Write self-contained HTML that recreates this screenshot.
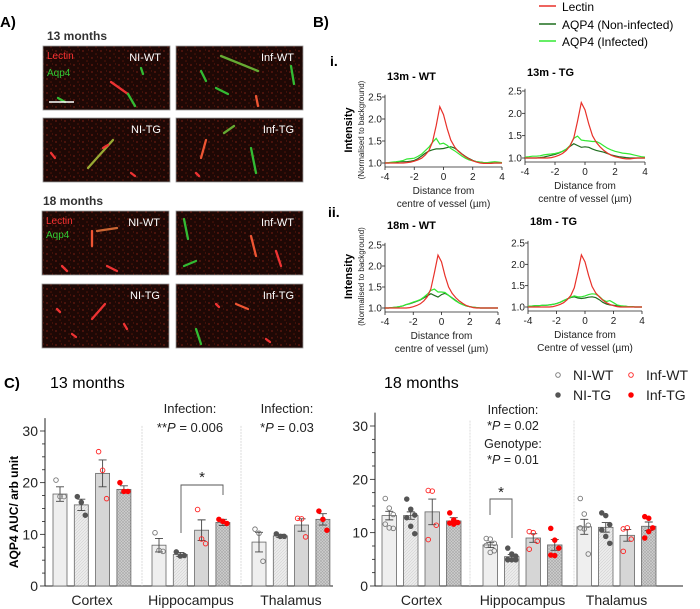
<!DOCTYPE html>
<html><head><meta charset="utf-8"><style>
html,body{margin:0;padding:0;background:#fff;}
svg{display:block;font-family:"Liberation Sans",Arial,sans-serif;}
</style></head><body>
<svg id="fig" width="700" height="609" viewBox="0 0 700 609" xmlns="http://www.w3.org/2000/svg">
<defs>
<pattern id="hatch2" width="3" height="3" patternUnits="userSpaceOnUse"><rect width="3" height="3" fill="#ececec"/><path d="M0,3 L3,0" stroke="#d0d0d0" stroke-width="0.6"/></pattern>
<pattern id="hatch4" width="3" height="3" patternUnits="userSpaceOnUse"><rect width="3" height="3" fill="#cfcfcf"/><path d="M0,3 L3,0 M0,0 L3,3" stroke="#a8a8a8" stroke-width="0.6"/></pattern>
<pattern id="speckle" width="9" height="7" patternUnits="userSpaceOnUse"><rect width="9" height="7" fill="#1e0805"/><circle cx="2" cy="2" r="0.9" fill="#6a1a10"/><circle cx="6" cy="5" r="0.8" fill="#561409"/><circle cx="7.5" cy="1" r="0.5" fill="#7a2010"/></pattern>
</defs>
<g id="panelA">
<text x="0" y="27" font-size="15" font-weight="bold">A)</text>
<text x="47" y="40" font-size="12" font-weight="bold" fill="#333">13 months</text>
<text x="43" y="205" font-size="12" font-weight="bold" fill="#333">18 months</text>
</g>
<text x="313" y="27" font-size="15" font-weight="bold">B)</text>
<text x="330" y="66" font-size="14" font-weight="bold">i.</text>
<text x="328" y="217" font-size="14" font-weight="bold">ii.</text>
<g>
<line x1="539" y1="6" x2="556" y2="6" stroke="#e8312a" stroke-width="1.5"/>
<text x="562" y="11" font-size="12">Lectin</text>
<line x1="539" y1="24" x2="556" y2="24" stroke="#1f6e1f" stroke-width="1.5"/>
<text x="562" y="29" font-size="12">AQP4 (Non-infected)</text>
<line x1="539" y1="41" x2="556" y2="41" stroke="#33e833" stroke-width="1.5"/>
<text x="562" y="46" font-size="12">AQP4 (Infected)</text>
</g>
<g id="profiles"></g>
<g id="panelC">
<text x="4" y="388" font-size="15" font-weight="bold">C)</text>
<text x="50" y="388" font-size="16">13 months</text>
<text x="384" y="388" font-size="16">18 months</text>
<text transform="translate(18,512) rotate(-90)" text-anchor="middle" font-size="12" font-weight="bold">AQP4 AUC/ arb unit</text>
</g>
<g id="bars"></g>
</svg>
<script>
const NS="http://www.w3.org/2000/svg";
function mk(tag,attrs,parent,txt){const e=document.createElementNS(NS,tag);for(const k in attrs)e.setAttribute(k,attrs[k]);if(txt!==undefined)e.textContent=txt;parent.appendChild(e);return e;}
const svg=document.getElementById('fig');

/* ---------- Panel A: micrographs ---------- */
const micrographLabels=["NI-WT","Inf-WT","NI-TG","Inf-TG","NI-WT","Inf-WT","NI-TG","Inf-TG"];
const microBoxes=[[43,46],[176,46],[43,118],[176,118],[42,211],[176,211],[42,284],[176,284]];
/* vessel segments relative to box origin */
const vessels=[
 [[68,36,85,48,"#e33"],[85,48,92,60,"#3b3"],[15,52,22,56,"#3b3"],[98,22,100,28,"#3b3"]],
 [[25,25,30,35,"#3b3"],[45,10,82,25,"#6a3"],[40,42,52,48,"#3b3"],[115,20,118,38,"#3b3"],[80,50,82,60,"#e53"]],
 [[45,50,70,22,"#9a3"],[8,35,12,40,"#e33"],[88,55,92,58,"#e33"],[60,30,65,27,"#e33"]],
 [[25,40,30,22,"#e53"],[75,30,80,55,"#3b3"],[48,15,58,8,"#6a3"],[20,55,23,58,"#e33"]],
 [[55,20,75,17,"#c63"],[50,20,50,35,"#e53"],[20,55,25,60,"#e33"],[65,55,75,60,"#e33"]],
 [[8,8,12,28,"#3b3"],[8,55,20,50,"#3b3"],[75,25,80,45,"#e53"],[100,40,105,55,"#e33"]],
 [[50,35,63,20,"#e33"],[15,25,18,28,"#e33"],[82,40,85,45,"#e33"],[30,50,34,53,"#e33"]],
 [[20,45,25,60,"#3b3"],[60,20,72,25,"#e53"],[90,55,94,58,"#e33"],[40,20,43,23,"#e33"]]];
microBoxes.forEach((b,i)=>{
  const g=mk('g',{},svg);
  
  
  mk('rect',{x:b[0],y:b[1],width:127,height:64,fill:"url(#speckle)",stroke:"#999","stroke-width":0.8},g);
  vessels[i].forEach(v=>mk('line',{x1:b[0]+v[0],y1:b[1]+v[1],x2:b[0]+v[2],y2:b[1]+v[3],stroke:v[4],"stroke-width":2.3,"stroke-linecap":"round"},g));
  mk('text',{x:b[0]+118,y:b[1]+15,"font-size":11,fill:"#fff","text-anchor":"end"},g,micrographLabels[i]);
  if(i===0||i===4){mk('text',{x:b[0]+4,y:b[1]+13,"font-size":10,fill:"#f33"},g,"Lectin");mk('text',{x:b[0]+4,y:b[1]+(i===0?30:27),"font-size":10,fill:"#3c3"},g,"Aqp4");}
  if(i===0)mk('line',{x1:49,y1:102,x2:74,y2:102,stroke:"#fff","stroke-width":1.5},g);
});

/* ---------- Panel B: intensity profiles ---------- */
const profileX=[-4,-3.75,-3.5,-3.25,-3,-2.75,-2.5,-2.25,-2,-1.75,-1.5,-1.25,-1,-0.75,-0.5,-0.25,0,0.25,0.5,0.75,1,1.25,1.5,1.75,2,2.25,2.5,2.75,3,3.25,3.5,3.75,4];
const lectin13WT=[1,1,1,1,1,1,1.01,1.02,1.04,1.07,1.11,1.18,1.28,1.48,1.85,2.28,2.1,1.78,1.52,1.37,1.27,1.2,1.14,1.09,1.05,1.02,1,0.99,0.99,0.99,1,1,1];
const ni13WT=[1,1,1.01,1.02,1.03,1.03,1.03,1.04,1.06,1.1,1.16,1.22,1.27,1.3,1.32,1.32,1.33,1.35,1.37,1.34,1.28,1.21,1.15,1.1,1.06,1.03,1.02,1.01,1,1,1,1,1];
const inf13WT=[1,1.01,1.02,1.03,1.04,1.06,1.09,1.1,1.11,1.15,1.2,1.28,1.36,1.47,1.56,1.43,1.45,1.4,1.33,1.28,1.22,1.16,1.11,1.07,1.05,1.03,1.02,1.01,1.01,1.02,1.03,1.02,1.01];
const lectin13TG=[1,1,1,1,1,1,1,1.01,1.03,1.06,1.1,1.17,1.27,1.45,1.82,2.24,2.08,1.76,1.5,1.35,1.25,1.17,1.11,1.06,1.03,1.01,0.99,0.98,0.98,0.99,1,1,1];
const ni13TG=[1,1,1,1,1.01,1.02,1.04,1.06,1.08,1.11,1.15,1.2,1.26,1.32,1.28,1.24,1.25,1.24,1.2,1.17,1.15,1.13,1.1,1.07,1.05,1.03,1.02,1.01,1,1,1,1,1];
const inf13TG=[1.02,1.03,1.04,1.04,1.05,1.07,1.08,1.09,1.1,1.12,1.15,1.2,1.28,1.44,1.49,1.4,1.39,1.38,1.37,1.37,1.33,1.27,1.22,1.18,1.15,1.13,1.11,1.1,1.09,1.07,1.05,1.03,1.02];
const lectin18WT=[1,1,1,1,1,1,1,1.01,1.03,1.06,1.1,1.17,1.27,1.46,1.84,2.26,2.1,1.77,1.5,1.35,1.25,1.17,1.11,1.06,1.03,1.01,1,1,1,1,1,1,1];
const ni18WT=[1,1,1.01,1.02,1.03,1.05,1.08,1.1,1.13,1.16,1.19,1.24,1.29,1.34,1.3,1.26,1.32,1.35,1.3,1.24,1.18,1.12,1.08,1.05,1.03,1.02,1.01,1,1,1,1,1,1];
const inf18WT=[1,1,1.01,1.02,1.03,1.05,1.08,1.11,1.14,1.17,1.2,1.26,1.33,1.42,1.45,1.38,1.38,1.37,1.3,1.23,1.17,1.12,1.08,1.05,1.03,1.02,1.01,1,1,1,1,1,1];
const lectin18TG=[1,1,1,1,1,1,1,1.01,1.03,1.06,1.1,1.17,1.27,1.45,1.82,2.22,2.06,1.74,1.48,1.33,1.24,1.16,1.1,1.06,1.03,1.01,1,1,1,1,1,1,1];
const ni18TG=[1.02,1.02,1.03,1.03,1.04,1.04,1.05,1.06,1.08,1.11,1.15,1.19,1.22,1.24,1.21,1.2,1.21,1.23,1.24,1.22,1.17,1.11,1.07,1.05,1.04,1.03,1.02,1.02,1.01,1.01,1,1,1];
const inf18TG=[1.02,1.02,1.03,1.03,1.04,1.04,1.05,1.06,1.08,1.11,1.15,1.19,1.23,1.26,1.24,1.24,1.26,1.29,1.31,1.3,1.25,1.17,1.13,1.15,1.1,1.05,1.03,1.02,1.01,1.01,1,1,1];
const profileTitles=["13m - WT","13m - TG","18m - WT","18m - TG"];
const profileSeries=[[lectin13WT,ni13WT,inf13WT],[lectin13TG,ni13TG,inf13TG],[lectin18WT,ni18WT,inf18WT],[lectin18TG,ni18TG,inf18TG]];
const profileXTicks=[-4,-2,0,2,4];
const profileYTicks=[1.0,1.5,2.0,2.5];
const profileBoxes=[[385,502,163,97,80,"centre of vessel (µm)"],[525,645,158,91,76,"centre of vessel (µm)"],[385,498,308,245,229,"centre of vessel (µm)"],[528,642,307,243,225,"Centre of vessel (µm)"]];
const seriesColors=["#e8312a","#1f6e1f","#33e833"];
const prof=document.getElementById('profiles');
profileBoxes.forEach((b,pi)=>{
  const [L,R,y1,y25,ty,lab2]=b;
  const xs=v=>L+(v+4)/8*(R-L);
  const ys=v=>y1-(v-1)/1.5*(y1-y25);
  const g=mk('g',{},prof);
  
  
  mk('text',{x:L+2,y:ty,"font-size":11,"font-weight":"bold"},g,profileTitles[pi]);
  const ax=y1+4;
  mk('line',{x1:L,y1:ax,x2:R,y2:ax,stroke:"#222","stroke-width":0.8},g);
  mk('line',{x1:L,y1:ys(2.55),x2:L,y2:ax,stroke:"#222","stroke-width":0.8},g);
  profileXTicks.forEach(t=>{mk('line',{x1:xs(t),y1:ax,x2:xs(t),y2:ax+3,stroke:"#222","stroke-width":0.8},g);
    const tx=mk('text',{x:xs(t),y:ax+13,"font-size":10,"text-anchor":"middle",fill:"#222"},g,t<0?"-"+Math.abs(t):String(t));
    });
  profileYTicks.forEach(t=>{mk('line',{x1:L-3,y1:ys(t),x2:L,y2:ys(t),stroke:"#222","stroke-width":0.8},g);
    mk('text',{x:L-3,y:ys(t)+3.5,"font-size":10,"text-anchor":"end",fill:"#222"},g,t.toFixed(1));});
  mk('text',{x:(L+R)/2,y:ax+27,"font-size":10,"text-anchor":"middle",fill:"#222"},g,"Distance from");
  mk('text',{x:(L+R)/2,y:ax+40,"font-size":10,"text-anchor":"middle",fill:"#222"},g,lab2);
  [1,2,0].forEach(si=>{
    const d=profileX.map((x,i)=>(i?"L":"M")+xs(x).toFixed(1)+","+ys(profileSeries[pi][si][i]).toFixed(1)).join(" ");
    const p=mk('path',{d:d,fill:"none",stroke:seriesColors[si],"stroke-width":1.2},g);
    
    
  });
  if(pi===0||pi===2){
    const cy=(y1+y25)/2;
    mk('text',{transform:`translate(352,${cy}) rotate(-90)`,"font-size":11,"font-weight":"bold","text-anchor":"middle"},g,"Intensity");
    mk('text',{transform:`translate(364,${cy}) rotate(-90)`,"font-size":8,"text-anchor":"middle",fill:"#222"},g,"(Normalised to background)");
  }
});

/* ---------- Panel C: bar charts ---------- */
const regions=["Cortex","Hippocampus","Thalamus"];
const groups=["NI-WT","NI-TG","Inf-WT","Inf-TG"];
const yTicks=[0,10,20,30];
const means13=[[17.8,15.7,21.8,18.7],[7.9,6.1,10.8,12.3],[8.5,9.7,11.8,12.9]];
const sem13=[[1.4,1.1,2.6,0.7],[1.3,0.4,2.0,0.6],[1.9,0.3,1.2,1.1]];
const points13=[
 [[20.5,17.3,17.3],[17.3,16.2,13.7],[26,22.4,16.9],[20,18.3,18.3]],
 [[10.3,6.9,6.7],[6.6,5.8,5.9],[14.8,9.1,8.2],[12.9,12.5,12.1]],
 [[11.0,10.2,4.8],[10.1,9.6,9.6],[13.1,13.0,9.5],[14.5,12.9,10.8]]];
const means18=[[13.2,13.2,13.9,12.2],[7.7,5.5,9.0,7.7],[11.1,11.0,9.5,11.2]];
const sem18=[[0.8,0.7,2.4,0.6],[0.5,0.4,0.8,1.0],[1.4,0.9,1.1,0.8]];
const points18=[
 [[16.4,14.6,13.4,11.6,10.9,10.8],[16.3,14.4,13.3,12.8,11.2,9.8],[17.9,17.8,11.4,8.7],[13.7,12.4,11.9,11.8,11.6]],
 [[8.9,8.8,8.0,7.6,6.3,6.6],[7.1,6.0,5.6,5.0,4.9,4.9,4.9],[10.2,10.0,8.4,6.9],[10.8,8.6,7.1,5.8,5.7]],
 [[16.4,13.5,11.4,10.9,10.7,6.0],[13.7,13.2,11.5,10.5,9.3,8.0],[10.7,10.9,8.8,6.5],[13.0,12.7,10.9,9.0,10.2]]];
const barFills=["#efefef","url(#hatch2)","#d6d6d6","url(#hatch4)"];
const ptStyle=[["none","#777"],["#555","#555"],["none","#f22"],["#f00","#f00"]];
const bars=document.getElementById('bars');

function barChart(cfg){
  const {name,axisX,y0,y30,xEnd,regionStart,barStep,barW,dividers,means,sems,points}=cfg;
  const ys=v=>y0-(v/30)*(y0-y30);
  const g=mk('g',{},bars);
  
  
  mk('line',{x1:axisX,y1:y0,x2:xEnd,y2:y0,stroke:"#222","stroke-width":1},g);
  mk('line',{x1:axisX,y1:ys(32.5),x2:axisX,y2:y0,stroke:"#222","stroke-width":1},g);
  for(let v=0;v<=32;v+=2.5){mk('line',{x1:axisX-(v%10===0?5:3),y1:ys(v),x2:axisX,y2:ys(v),stroke:"#222","stroke-width":0.8},g);}
  yTicks.forEach(t=>{const tx=mk('text',{x:axisX-7,y:ys(t)+5,"font-size":14,"text-anchor":"end",fill:"#222"},g,String(t));
    });
  dividers.forEach(dx=>mk('line',{x1:dx,y1:ys(31),x2:dx,y2:y0,stroke:"#ccc","stroke-width":0.7,"stroke-dasharray":"2,1"},g));
  regions.forEach((r,ri)=>{
    const rs=regionStart[ri];
    const lbl=mk('text',{x:rs+barStep*1.5+barW/2,y:y0+19,"font-size":14,"text-anchor":"middle",fill:"#222"},g,r);
    
    groups.forEach((gr,gi)=>{
      const x=rs+gi*barStep, cx=x+barW/2, m=means[ri][gi], s=sems[ri][gi];
      const b=mk('rect',{x:x,y:ys(m),width:barW,height:y0-ys(m),fill:barFills[gi],stroke:"#666","stroke-width":0.8},g);
      
      
      mk('path',{d:`M${cx},${ys(m-s)} V${ys(m+s)} M${cx-4},${ys(m+s)} H${cx+4} M${cx-4},${ys(m-s)} H${cx+4}`,stroke:"#444","stroke-width":0.9,fill:"none"},g);
      const pts=points[ri][gi];
      pts.forEach((v,i)=>{
        const off=(i%3-1)*4;
        const c=mk('circle',{cx:cx+off,cy:ys(v),r:2.3,fill:ptStyle[gi][0],stroke:ptStyle[gi][1],"stroke-width":0.9},g);
        
        
      });
    });
  });
  return {g,ys};
}
const c13=barChart({name:'bar-chart-13-months',axisX:45,y0:586,y30:431,xEnd:333,regionStart:[53,152,252],barStep:21.3,barW:14,dividers:[142,241],means:means13,sems:sem13,points:points13});
const c18=barChart({name:'bar-chart-18-months',axisX:375,y0:586,y30:426,xEnd:683,regionStart:[382,483,577],barStep:21.5,barW:14.5,dividers:[470,574],means:means18,sems:sem18,points:points18});

function txt(x,y,s,name,sz){const t=mk('text',{x:x,y:y,"font-size":sz||13,"text-anchor":"middle",fill:"#222"},bars);t.innerHTML=s;return t;}
txt(190,413,"Infection:","annotation-hippo-13m-infection");
txt(190,432,"**<tspan font-style='italic'>P</tspan> = 0.006","annotation-hippo-13m-p");
txt(287,413,"Infection:","annotation-thal-13m-infection");
txt(287,432,"*<tspan font-style='italic'>P</tspan> = 0.03","annotation-thal-13m-p");
mk('path',{d:"M181,533 V485 H223 V495",fill:"none",stroke:"#555","stroke-width":0.9},bars);
txt(202,482,"*","sig-star-13m",15);
txt(513,414,"Infection:","annotation-hippo-18m-infection",12.5);
txt(513,430,"*<tspan font-style='italic'>P</tspan> = 0.02","annotation-hippo-18m-infection-p",12.5);
txt(513,448,"Genotype:","annotation-hippo-18m-genotype",12.5);
txt(513,464,"*<tspan font-style='italic'>P</tspan> = 0.01","annotation-hippo-18m-genotype-p",12.5);
mk('path',{d:"M490,515 V499 H512 V538",fill:"none",stroke:"#555","stroke-width":0.9},bars);
txt(501,497,"*","sig-star-18m",15);

/* legend */
const legendItems=[[558,375,"NI-WT",0],[631,375,"Inf-WT",2],[558,395,"NI-TG",1],[631,395,"Inf-TG",3]];
legendItems.forEach(l=>{
  const g=mk('g',{},bars);
  
  
  mk('circle',{cx:l[0],cy:l[1],r:2.3,fill:ptStyle[l[3]][0],stroke:ptStyle[l[3]][1],"stroke-width":0.9},g);
  mk('text',{x:l[0]+15,y:l[1]+5,"font-size":14,fill:"#222"},g,l[2]);
});
</script>
</body></html>
